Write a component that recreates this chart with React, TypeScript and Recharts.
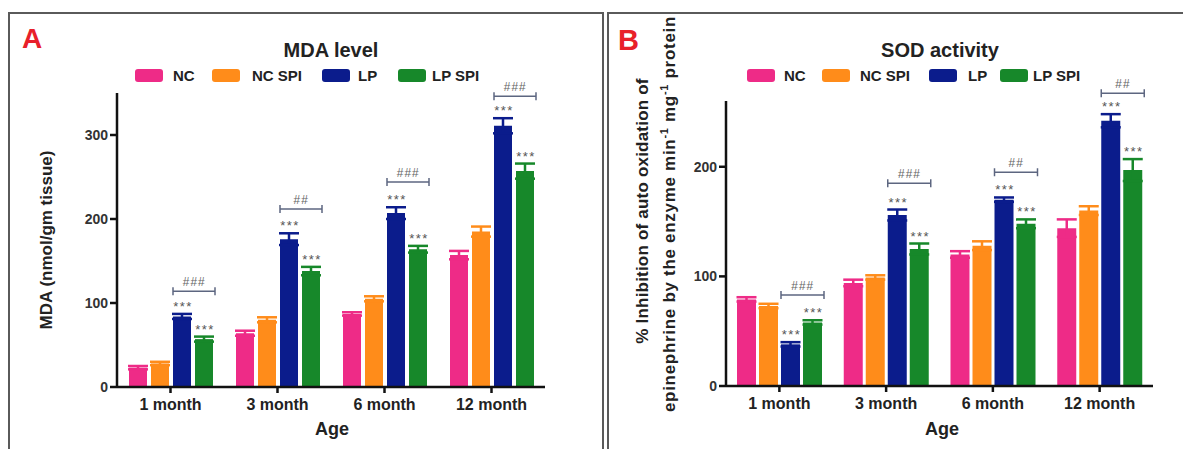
import React from "react";
import { BarChart, Bar, XAxis, YAxis, ErrorBar, LabelList } from "recharts";

const months = ["1 month", "3 month", "6 month", "12 month"];
const seriesNames = ["NC", "NC SPI", "LP", "LP SPI"];
const seriesColors = ["#ee2b87", "#ff8c1a", "#0b1c8c", "#17882a"];

// MDA level (nmol/gm tissue)
const mdaNC = [23, 64, 87, 157];
const mdaNCErr = [2, 3, 2, 5];
const mdaNCSPI = [28, 80, 105, 185];
const mdaNCSPIErr = [2, 3, 3, 6];
const mdaLP = [84, 176, 207, 311];
const mdaLPErr = [3, 7, 7, 9];
const mdaLPSPI = [57, 138, 164, 257];
const mdaLPSPIErr = [3, 5, 4, 9];
const mdaBracket = [114, 212, 244, 346];
const mdaHash = ["###", "##", "###", "###"];
const mdaTicks = [0, 100, 200, 300];

// SOD activity
const sodNC = [79, 94, 120, 144];
const sodNCErr = [2, 3, 3, 8];
const sodNCSPI = [73, 99, 128, 160];
const sodNCSPIErr = [2, 2, 4, 4];
const sodLP = [38, 156, 170, 242];
const sodLPErr = [2, 5, 2, 6];
const sodLPSPI = [58, 125, 148, 197];
const sodLPSPIErr = [2, 5, 4, 10];
const sodBracket = [83, 185, 195, 267];
const sodHash = ["###", "###", "##", "##"];
const sodTicks = [0, 100, 200];

const FONT = '"Liberation Sans", Arial, sans-serif';

function buildRows(nc, ncE, ncs, ncsE, lp, lpE, lps, lpsE) {
  return months.map((m, i) => ({
    month: m,
    nc: nc[i], ncErr: ncE[i],
    ncspi: ncs[i], ncspiErr: ncsE[i],
    lp: lp[i], lpErr: lpE[i],
    lpspi: lps[i], lpspiErr: lpsE[i],
  }));
}

const mdaRows = buildRows(mdaNC, mdaNCErr, mdaNCSPI, mdaNCSPIErr, mdaLP, mdaLPErr, mdaLPSPI, mdaLPSPIErr);
const sodRows = buildRows(sodNC, sodNCErr, sodNCSPI, sodNCSPIErr, sodLP, sodLPErr, sodLPSPI, sodLPSPIErr);

function stars(errs: number[]) {
  return (props: any) => {
    const { x, y, width, height, value, index } = props;
    if (!value) return null;
    const ppu = height / value;
    const top = y - errs[index] * ppu;
    return (
      <text x={x + width / 2 + 1} y={top - 3} textAnchor="middle" fontSize={13}
        fill="#555" letterSpacing={1.5} fontFamily={FONT}>***</text>
    );
  };
}

function starsAndBracket(errs: number[], levels: number[], hashes: string[], gap: number) {
  return (props: any) => {
    const { x, y, width, height, value, index } = props;
    if (!value) return null;
    const ppu = height / value;
    const base = y + height;
    const top = y - errs[index] * ppu;
    const by = base - levels[index] * ppu;
    const x1 = x;
    const x2 = x + 2 * width + gap + 2;
    const c = "#5d6680";
    return (
      <g>
        <text x={x + width / 2 + 1} y={top - 3} textAnchor="middle" fontSize={13}
          fill="#555" letterSpacing={1.5} fontFamily={FONT}>***</text>
        <line x1={x1} x2={x2} y1={by} y2={by} stroke={c} strokeWidth={1.5} />
        <line x1={x1} x2={x1} y1={by - 4} y2={by + 4} stroke={c} strokeWidth={1.5} />
        <line x1={x2} x2={x2} y1={by - 4} y2={by + 4} stroke={c} strokeWidth={1.5} />
        <text x={(x1 + x2) / 2} y={by - 5} textAnchor="middle" fontSize={12}
          fontStyle="italic" fill="#666" letterSpacing={1} fontFamily={FONT}>{hashes[index]}</text>
      </g>
    );
  };
}

const axisStyle = { stroke: "#111", strokeWidth: 2.5 };

function Panel({ rows, domain, ticks, left, width, margin, barSize, gap, lpErr, lpsErr, levels, hashes }) {
  return (
    <div style={{ position: "absolute", left, top: 0 }}>
      <BarChart width={width} height={457} data={rows} margin={margin}
        barSize={barSize} barGap={gap}>
        <XAxis dataKey="month" height={30} axisLine={axisStyle} tickLine={axisStyle}
          tickSize={6} tickMargin={6}
          tick={{ fontSize: 16, fontWeight: "bold", fill: "#222", fontFamily: FONT }} />
        <YAxis width={60} domain={domain} ticks={ticks} axisLine={axisStyle} tickLine={axisStyle}
          tickSize={7} tickMargin={2} interval={0}
          tick={{ fontSize: 14, fontWeight: "bold", fill: "#333", fontFamily: FONT }} />
        <Bar dataKey="nc" fill={seriesColors[0]} isAnimationActive={false}>
          <ErrorBar dataKey="ncErr" width={10} strokeWidth={2.5} stroke={seriesColors[0]} direction="y" />
        </Bar>
        <Bar dataKey="ncspi" fill={seriesColors[1]} isAnimationActive={false}>
          <ErrorBar dataKey="ncspiErr" width={10} strokeWidth={2.5} stroke={seriesColors[1]} direction="y" />
        </Bar>
        <Bar dataKey="lp" fill={seriesColors[2]} isAnimationActive={false}>
          <ErrorBar dataKey="lpErr" width={10} strokeWidth={2.5} stroke={seriesColors[2]} direction="y" />
          <LabelList dataKey="lp" content={starsAndBracket(lpErr, levels, hashes, gap)} />
        </Bar>
        <Bar dataKey="lpspi" fill={seriesColors[3]} isAnimationActive={false}>
          <ErrorBar dataKey="lpspiErr" width={10} strokeWidth={2.5} stroke={seriesColors[3]} direction="y" />
          <LabelList dataKey="lpspi" content={stars(lpsErr)} />
        </Bar>
      </BarChart>
    </div>
  );
}

function Legend({ swatchX, textX }) {
  return (
    <g>
      {seriesNames.map((n, i) => (
        <g key={n}>
          <rect x={swatchX[i]} y={69} width={28} height={13} rx={3} fill={seriesColors[i]} />
          <text x={textX[i]} y={81} fontSize={15} fontWeight="bold" fill="#222" fontFamily={FONT}>{n}</text>
        </g>
      ))}
    </g>
  );
}

export default function App() {
  return (
    <div style={{ position: "relative", width: 1191, height: 457, margin: -8, background: "#fff", overflow: "hidden", fontFamily: FONT }}>
      <div style={{ position: "absolute", left: 8, top: 12, width: 596, height: 470, border: "2px solid #5a5a5a", boxSizing: "border-box" }} />
      <div style={{ position: "absolute", left: 607, top: 12, width: 600, height: 470, border: "2px solid #5a5a5a", boxSizing: "border-box" }} />

      <Panel rows={mdaRows} domain={[0, 350]} ticks={mdaTicks} left={0} width={603}
        margin={{ top: 93, bottom: 40, left: 57, right: 58 }} barSize={18} gap={4}
        lpErr={mdaLPErr} lpsErr={mdaLPSPIErr} levels={mdaBracket} hashes={mdaHash} />
      <Panel rows={sodRows} domain={[0, 260]} ticks={sodTicks} left={607} width={584}
        margin={{ top: 101, bottom: 41, left: 59, right: 38 }} barSize={19} gap={3}
        lpErr={sodLPErr} lpsErr={sodLPSPIErr} levels={sodBracket} hashes={sodHash} />

      <svg width={1191} height={457} style={{ position: "absolute", left: 0, top: 0, pointerEvents: "none" }}>
        <text x={22} y={48} fontSize={28} fontWeight="bold" fill="#e8202a" fontFamily={FONT}>A</text>
        <text x={618} y={50} fontSize={29} fontWeight="bold" fill="#e8202a" fontFamily={FONT}>B</text>

        <text x={331} y={57} textAnchor="middle" fontSize={20} fontWeight="bold" fill="#222" fontFamily={FONT}>MDA level</text>
        <text x={940} y={57} textAnchor="middle" fontSize={20} fontWeight="bold" fill="#222" fontFamily={FONT}>SOD activity</text>

        <Legend swatchX={[135, 212, 322, 398]} textX={[173, 252, 358, 432]} />
        <Legend swatchX={[747, 822, 929, 1000]} textX={[784, 860, 968, 1033]} />

        <text transform="translate(52,240) rotate(-90)" textAnchor="middle" fontSize={17} fontWeight="bold" fill="#222" fontFamily={FONT}>MDA (nmol/gm tissue)</text>
        <text transform="translate(648,211) rotate(-90)" textAnchor="middle" fontSize={17} fontWeight="bold" fill="#222" letterSpacing={0.2} fontFamily={FONT}>% Inhibition of auto oxidation of</text>
        <text transform="translate(675,214) rotate(-90)" textAnchor="middle" fontSize={17} fontWeight="bold" fill="#222" letterSpacing={0.7} fontFamily={FONT}>
          epinephrine by the enzyme min<tspan fontSize={11} dy={-7}>-1</tspan><tspan dy={7}> mg</tspan><tspan fontSize={11} dy={-7}>-1</tspan><tspan dy={7}>  protein</tspan>
        </text>

        <text x={332} y={435} textAnchor="middle" fontSize={18} fontWeight="bold" fill="#222" fontFamily={FONT}>Age</text>
        <text x={942} y={435} textAnchor="middle" fontSize={18} fontWeight="bold" fill="#222" fontFamily={FONT}>Age</text>
      </svg>
    </div>
  );
}
